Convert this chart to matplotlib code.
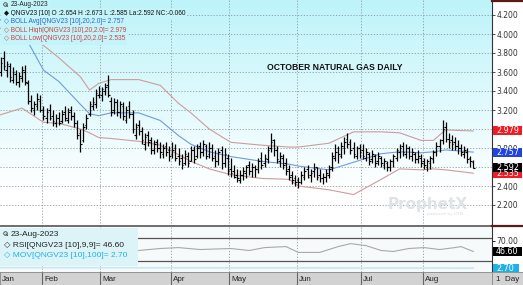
import numpy as np
import matplotlib
matplotlib.use("Agg")
import matplotlib.pyplot as plt
import matplotlib.transforms as mtransforms

# ---- data ----
highs = [3.76, 3.82, 3.72, 3.70, 3.65, 3.62, 3.60, 3.66, 3.67, 3.52, 3.36, 3.30, 3.38, 3.36,
         3.24, 3.22, 3.26, 3.20, 3.16, 3.18, 3.20, 3.24, 3.22, 3.24, 3.18, 3.10, 3.00, 3.06, 3.16, 3.30, 3.34, 3.42, 3.45,
         3.44, 3.48, 3.57, 3.34, 3.33, 3.32, 3.30, 3.28, 3.24, 3.30, 3.20, 3.06, 3.10, 3.02, 2.96, 2.98, 2.92, 2.88, 2.90, 2.86, 2.84, 2.86, 2.82,
         2.86, 2.84, 2.80, 2.74, 2.78, 2.76, 2.82, 2.82, 2.84, 2.86, 2.88, 2.84, 2.86, 2.84, 2.78, 2.80, 2.82, 2.80, 2.74,
         2.70, 2.62, 2.58, 2.57, 2.60, 2.62, 2.66, 2.64, 2.62, 2.70, 2.76, 2.74, 2.82, 2.96, 2.90, 2.82, 2.76, 2.74, 2.70, 2.62, 2.56, 2.52,
         2.50, 2.56, 2.60, 2.62, 2.58, 2.64, 2.60, 2.58, 2.54, 2.58, 2.62, 2.76, 2.84, 2.82, 2.86, 2.92, 2.96, 2.90, 2.86, 2.82, 2.84,
         2.84, 2.80, 2.76, 2.78, 2.74, 2.76, 2.72, 2.70, 2.66, 2.68, 2.74, 2.80, 2.84, 2.86, 2.84, 2.82, 2.80, 2.76, 2.78, 2.74,
         2.70, 2.68, 2.72, 2.78, 2.86, 2.90, 3.09, 3.07, 2.96, 2.94, 2.92, 2.88, 2.84, 2.82, 2.80, 2.72, 2.673]
lows = [3.56, 3.62, 3.55, 3.50, 3.48, 3.46, 3.44, 3.50, 3.46, 3.26, 3.18, 3.15, 3.20, 3.18,
        3.10, 3.06, 3.10, 3.03, 3.02, 3.04, 3.06, 3.08, 3.06, 3.10, 3.02, 2.90, 2.76, 2.86, 3.00, 3.14, 3.20, 3.22, 3.33,
        3.30, 3.36, 3.34, 3.14, 3.16, 3.14, 3.12, 3.10, 3.06, 3.12, 2.96, 2.90, 2.94, 2.84, 2.78, 2.82, 2.74, 2.74, 2.76, 2.70, 2.70, 2.72, 2.66,
        2.70, 2.66, 2.62, 2.58, 2.62, 2.60, 2.66, 2.64, 2.70, 2.70, 2.72, 2.68, 2.70, 2.66, 2.60, 2.62, 2.58, 2.60, 2.52,
        2.50, 2.48, 2.44, 2.43, 2.46, 2.48, 2.52, 2.50, 2.50, 2.54, 2.58, 2.60, 2.64, 2.76, 2.72, 2.64, 2.60, 2.58, 2.52, 2.46, 2.42, 2.40,
        2.38, 2.42, 2.46, 2.48, 2.44, 2.50, 2.46, 2.44, 2.42, 2.44, 2.48, 2.56, 2.66, 2.64, 2.70, 2.74, 2.80, 2.74, 2.70, 2.68, 2.70,
        2.68, 2.66, 2.62, 2.64, 2.60, 2.62, 2.60, 2.58, 2.56, 2.56, 2.60, 2.66, 2.70, 2.72, 2.70, 2.68, 2.66, 2.64, 2.64, 2.60,
        2.58, 2.56, 2.58, 2.64, 2.72, 2.76, 2.84, 2.86, 2.80, 2.78, 2.78, 2.74, 2.72, 2.70, 2.64, 2.60, 2.585]
opens = [3.60, 3.75, 3.62, 3.66, 3.52, 3.58, 3.50, 3.54, 3.60, 3.48, 3.30, 3.20, 3.24, 3.30,
         3.20, 3.12, 3.20, 3.14, 3.06, 3.12, 3.08, 3.18, 3.10, 3.20, 3.14, 3.06, 2.96, 2.88, 3.04, 3.16, 3.24, 3.26, 3.36,
         3.36, 3.40, 3.46, 3.30, 3.20, 3.28, 3.18, 3.24, 3.10, 3.24, 3.16, 2.94, 3.04, 2.98, 2.84, 2.94, 2.88, 2.78, 2.86, 2.80, 2.74, 2.82, 2.78,
         2.74, 2.80, 2.72, 2.70, 2.64, 2.72, 2.66, 2.78, 2.72, 2.82, 2.76, 2.82, 2.74, 2.80, 2.72, 2.66, 2.78, 2.64, 2.70,
         2.58, 2.56, 2.52, 2.46, 2.52, 2.54, 2.62, 2.56, 2.60, 2.58, 2.70, 2.64, 2.68, 2.80, 2.88, 2.78, 2.66, 2.70, 2.64, 2.58, 2.52, 2.48,
         2.46, 2.44, 2.50, 2.58, 2.52, 2.56, 2.60, 2.52, 2.48, 2.50, 2.52, 2.60, 2.70, 2.80, 2.72, 2.80, 2.90, 2.86, 2.80, 2.72, 2.80,
         2.78, 2.70, 2.74, 2.68, 2.72, 2.66, 2.70, 2.62, 2.64, 2.60, 2.66, 2.70, 2.76, 2.82, 2.74, 2.80, 2.72, 2.74, 2.68, 2.70,
         2.66, 2.60, 2.64, 2.68, 2.76, 2.82, 2.88, 3.02, 2.90, 2.88, 2.86, 2.82, 2.80, 2.74, 2.76, 2.70, 2.654]
closes = [3.70, 3.66, 3.68, 3.55, 3.60, 3.50, 3.56, 3.62, 3.50, 3.30, 3.22, 3.26, 3.32, 3.20,
          3.14, 3.18, 3.12, 3.08, 3.12, 3.06, 3.16, 3.12, 3.18, 3.14, 3.06, 2.94, 2.84, 3.02, 3.12, 3.26, 3.28, 3.38, 3.40,
          3.42, 3.44, 3.36, 3.18, 3.28, 3.18, 3.26, 3.14, 3.20, 3.16, 3.00, 3.02, 2.98, 2.88, 2.92, 2.86, 2.78, 2.84, 2.80, 2.76, 2.80, 2.76, 2.72,
          2.78, 2.70, 2.66, 2.62, 2.74, 2.64, 2.78, 2.68, 2.80, 2.76, 2.84, 2.72, 2.80, 2.70, 2.66, 2.76, 2.64, 2.74, 2.56,
          2.54, 2.50, 2.48, 2.52, 2.56, 2.60, 2.56, 2.60, 2.58, 2.66, 2.62, 2.70, 2.78, 2.86, 2.78, 2.68, 2.72, 2.62, 2.56, 2.50, 2.46, 2.44,
          2.44, 2.52, 2.56, 2.50, 2.54, 2.58, 2.50, 2.48, 2.50, 2.54, 2.58, 2.72, 2.76, 2.74, 2.82, 2.86, 2.84, 2.78, 2.74, 2.80, 2.76,
          2.72, 2.76, 2.66, 2.74, 2.64, 2.72, 2.64, 2.66, 2.60, 2.66, 2.72, 2.78, 2.80, 2.76, 2.80, 2.72, 2.76, 2.68, 2.72, 2.64,
          2.62, 2.66, 2.70, 2.76, 2.82, 2.88, 3.00, 2.90, 2.86, 2.84, 2.82, 2.80, 2.76, 2.78, 2.68, 2.66, 2.592]

months = ["Jan", "Feb", "Mar", "Apr", "May", "Jun", "Jul", "Aug"]
month_start = [0, 14, 33, 56, 75, 97, 118, 138]

# bollinger bands, read at sparse bar positions
band_x = [0, 7, 14, 19, 26, 29, 32, 36, 45, 52, 58, 62, 68, 75, 85, 94, 97, 107, 115, 124, 130, 137, 141, 145, 154]
boll_high = [4.06, 3.98, 3.88, 3.75, 3.55, 3.41, 3.48, 3.52, 3.52, 3.46, 3.27, 3.17, 3.00, 2.86, 2.83, 2.81, 2.81,
             2.85, 2.97, 2.97, 2.96, 2.88, 2.88, 2.99, 2.979]
boll_avg = [4.15, 4.03, 3.62, 3.50, 3.26, 3.16, 3.14, 3.17, 3.17, 3.09, 2.93, 2.84, 2.76, 2.71, 2.66, 2.63, 2.61,
            2.57, 2.65, 2.74, 2.76, 2.75, 2.76, 2.78, 2.757]
boll_low = [3.15, 3.22, 3.07, 3.06, 3.00, 2.96, 2.91, 2.90, 2.87, 2.83, 2.73, 2.66, 2.58, 2.52, 2.48, 2.47, 2.40,
            2.36, 2.31, 2.47, 2.58, 2.57, 2.58, 2.57, 2.535]

rsi_x = [45, 52, 58, 65, 75, 81, 86, 93, 97, 104, 110, 114, 119, 124, 128, 133, 138, 143, 148, 150, 154]
rsi = [48.7, 53.0, 55.0, 50.8, 53.0, 48.7, 55.0, 57.2, 44.5, 44.5, 57.2, 63.6, 59.4, 48.7, 46.5, 53.0, 55.0, 50.8, 55.0, 57.2, 46.6]
mov_x = [0, 154]
mov = [2.71, 2.70]

n = len(closes)
idx = np.arange(n)

W, H = 523, 285
fig = plt.figure(figsize=(W / 100, H / 100), dpi=100)
fig.patch.set_facecolor("white")

px = 3.07          # pixels per bar
x0 = 0.5           # pixel of bar 0
main_r = 492
box_w = 29 / main_r
fam = ["Liberation Sans", "DejaVu Sans"]


def fx(p):
    return p / W


def fy(p):
    return 1 - p / H


ax = fig.add_axes([0, fy(226), fx(main_r), 226 / H])
ax.set_xlim(-x0 / px, (main_r - x0) / px)
ylo, yhi = 4.2 - 211 / 95, 4.2 + 15 / 95
ax.set_ylim(ylo, yhi)

# gradient background
grad = np.linspace(0, 1, 256).reshape(-1, 1)
top = np.array([0.74, 0.955, 0.98])
bot = np.array([1.0, 1.0, 1.0])
img = top + (bot - top) * np.clip(grad * 1.2, 0, 1)[..., None] * np.ones((1, 1, 3))
ax.imshow(img, extent=[-x0 / px, (main_r - x0) / px, ylo, yhi], aspect="auto", zorder=0, origin="upper")

grid_kw = dict(color="#8a9aa0", lw=0.6, ls=(0, (1.5, 2)), zorder=1)
for v in np.arange(2.2, 4.21, 0.2):
    ax.axhline(v, **grid_kw)
for m in month_start[1:]:
    ax.axvline(m - 0.5, **grid_kw)

# bollinger
ax.plot(band_x, boll_high, color="#cf9c9c", lw=0.8, zorder=2)
ax.plot(band_x, boll_low, color="#cf9c9c", lw=0.8, zorder=2)
ax.plot(band_x, boll_avg, color="#6f9be0", lw=0.8, zorder=2)

# OHLC bars
ax.vlines(idx, lows, highs, color="black", lw=0.9, zorder=3)
ax.hlines(opens, idx - 0.55, idx, color="black", lw=0.8, zorder=3)
ax.hlines(closes, idx, idx + 0.55, color="black", lw=0.8, zorder=3)

ticks = np.round(np.arange(2.2, 4.21, 0.2), 1)
ax.yaxis.tick_right()
ax.set_yticks(ticks)
# 2.600 and 3.000 sit fully under the value boxes
ax.set_yticklabels(["" if v in (2.6, 3.0) else f"{v:.3f}" for v in ticks], fontsize=5.5, color="#333333")
ax.tick_params(axis="y", length=2, width=0.6, pad=1, colors="#333333")
ax.tick_params(axis="x", length=0, labelbottom=False)
for s in ["top", "left", "bottom"]:
    ax.spines[s].set_visible(False)
ax.spines["right"].set_color("#333333")
ax.spines["right"].set_linewidth(0.8)

# value boxes on the right
trans = mtransforms.blended_transform_factory(ax.transAxes, ax.transData)
hb = 9 / 95
for val, txt, bg in [(2.979, "2.979", "#ee1c24"),
                     (2.757, "2.757", "#2244dd"),
                     (2.535, "2.535", "#ee1c24"),
                     (2.592, "2.592", "#000000")]:
    ax.add_patch(plt.Rectangle((1.002, val - hb / 2), box_w, hb, transform=trans, fc=bg, ec="none",
                               clip_on=False, zorder=6))
    ax.text(1.008, val, txt, transform=trans, ha="left", va="center", fontsize=5.8, color="white",
            clip_on=False, zorder=7)

# legend texts (main)
leg_bg = "#c3f4fa"
lf = dict(fontsize=4.7, family=fam, va="center", ha="left")
fig.text(fx(11), fy(4.5), "23-Aug-2023", color="#222222", zorder=8,
         bbox=dict(boxstyle="square,pad=0.35", fc=leg_bg, ec="none"), **lf)
rows = [("\u25c6 QNGV23 [10] O :2.654 H :2.673 L :2.585 La:2.592 NC:-0.060", "#111111"),
        ("\u25c7 BOLL Avg[QNGV23 [10],20,2.0]= 2.757", "#3060d0"),
        ("\u25c7 BOLL High[QNGV23 [10],20,2.0]= 2.979", "#d04040"),
        ("\u25c7 BOLL Low[QNGV23 [10],20,2.0]= 2.535", "#d04040")]
for k, (txt, tc) in enumerate(rows):
    yy = 13.3 + k * 8.5
    fig.text(fx(3.5), fy(yy), txt, color=tc, zorder=8,
             bbox=dict(boxstyle="square,pad=0.35", fc=leg_bg, ec="none"), **lf)


def magnifier(xp, yp):
    fig.add_artist(plt.Line2D([fx(xp)], [fy(yp)], marker="o", ms=2.6, mfc="none", mec="#444444",
                              mew=0.6, zorder=9))
    fig.add_artist(plt.Line2D([fx(xp + 1), fx(xp + 2.5)], [fy(yp + 1), fy(yp + 2.5)], color="#444444",
                              lw=0.7, zorder=9))


fig.add_artist(plt.Rectangle((0, fy(9)), fx(11), 9 / H, transform=fig.transFigure, fc=leg_bg, ec="none", zorder=7))
magnifier(5, 3.8)

fig.text(fx(335), fy(67), "OCTOBER NATURAL GAS DAILY", fontsize=6.2, fontweight="bold",
         family=fam, ha="center", va="center", color="#111111")

# watermark
fig.text(fx(428), fy(204), "ProphetX", fontsize=11, fontweight="bold", color="#dde3e6",
         ha="center", va="center", zorder=1)
fig.text(fx(445), fy(214), "powered by DTN", fontsize=3.2, color="#d6dde0", ha="center", va="center")

# separator lines
fig.add_artist(plt.Line2D([0, 1], [fy(226), fy(226)], color="#555555", lw=1.2))
fig.add_artist(plt.Line2D([fx(main_r), 1], [fy(225.5), fy(225.5)], color="#5a1a1a", lw=1.6))
fig.add_artist(plt.Line2D([fx(main_r), 1], [fy(0.8), fy(0.8)], color="#5a1a1a", lw=1.6))

# ---- RSI panel ----
ax2 = fig.add_axes([0, fy(272), fx(main_r), 45 / H])
ax2.set_xlim(ax.get_xlim())
ax2.set_ylim(1.9, 99.8)
ax2.set_facecolor("#f7fafb")
for v in [76.4, 25.3]:
    ax2.axhline(v, color="#555555", lw=0.9, zorder=2)
for m in month_start[1:]:
    ax2.axvline(m - 0.5, **grid_kw)
ax2.plot(rsi_x, rsi, color="#a8a8a8", lw=0.8, zorder=3)
ax2.set_xticks([])

ax3 = ax2.twinx()
ax3.set_ylim(2.613, 3.613)
ax3.plot(mov_x, mov, color="#c8e8f2", lw=1.2, zorder=2)
ax3.set_yticks([])
for s in ax3.spines.values():
    s.set_visible(False)

# twinx moves ax2's ticks to the left; put them back on the right
ax2.yaxis.tick_right()
ax2.set_yticks([70])
ax2.set_yticklabels(["70.00"], fontsize=5.5, color="#333333")
ax2.tick_params(axis="y", length=2, width=0.6, pad=1, left=False, labelleft=False)
for s in ["top", "left", "bottom"]:
    ax2.spines[s].set_visible(False)
ax2.spines["right"].set_color("#333333")
ax2.spines["right"].set_linewidth(0.8)
trans2 = mtransforms.blended_transform_factory(ax2.transAxes, ax2.transData)
hr = 9 / 0.47
ax3.add_patch(plt.Rectangle((1.002, 0.5 - 4.5 / 45 + (rsi[-1] - 50.85) / 97.9), box_w, 9 / 45,
                            transform=ax2.transAxes, fc="black", ec="none", clip_on=False, zorder=6))
ax3.text(1.008, 0.5 + (rsi[-1] - 50.85) / 97.9, "46.60", transform=ax2.transAxes, ha="left", va="center",
         fontsize=5.8, color="white", clip_on=False, zorder=7)

trans3 = mtransforms.blended_transform_factory(ax3.transAxes, ax3.transData)
hm = 9 / 45
ax3.add_patch(plt.Rectangle((1.002, mov[-1] - hm / 2), 26 / main_r, hm, transform=trans3, fc="#1fb0ea",
                            ec="none", clip_on=False, zorder=6))
ax3.text(1.008, mov[-1], "2.70", transform=trans3, ha="left", va="center", fontsize=5.8, color="white",
         clip_on=False, zorder=7)

# rsi legend box
fig.add_artist(plt.Rectangle((0, fy(266)), fx(138), (266 - 228) / H, transform=fig.transFigure,
                             fc="#dcf4f8", ec="none", zorder=4))
lf2 = dict(fontsize=6.0, family=fam, va="center", ha="left", zorder=5)
fig.text(fx(11), fy(234), "23-Aug-2023", color="#222222", **lf2)
magnifier(5, 233)
fig.text(fx(4.5), fy(245.5), "\u25c7 RSI[QNGV23 [10],9,9]= 46.60", color="#222222", **lf2)
fig.text(fx(4.5), fy(255), "\u25c7 MOV[QNGV23 [10],100]= 2.70", color="#1fb0ea", **lf2)

# ---- bottom date strip ----
ax4 = fig.add_axes([0, 0, fx(main_r), 13 / H])
ax4.set_xlim(ax.get_xlim())
ax4.set_ylim(0, 1)
ax4.set_facecolor("#d2d2d2")
for m, name in zip(month_start, months):
    if m > 0:
        ax4.axvline(m - 0.5, color="#666666", lw=0.8)
    ax4.text(m - 0.5 + 0.7 if m > 0 else 0.6, 0.45, name, fontsize=5.8, color="#222222",
             ha="left", va="center", family=fam)
ax4.set_xticks([])
ax4.set_yticks([])
for s in ax4.spines.values():
    s.set_color("#888888")
    s.set_linewidth(0.6)

ax5 = fig.add_axes([fx(main_r), 0, 1 - fx(main_r), 13 / H])
ax5.set_facecolor("#d2d2d2")
ax5.set_xticks([])
ax5.set_yticks([])
for s in ax5.spines.values():
    s.set_color("#888888")
    s.set_linewidth(0.6)
ax5.text(0.12, 0.45, "1  Day", fontsize=5.8, color="#222222", ha="left", va="center",
         transform=ax5.transAxes, family=fam)

fig.savefig("out.png", dpi=100)
